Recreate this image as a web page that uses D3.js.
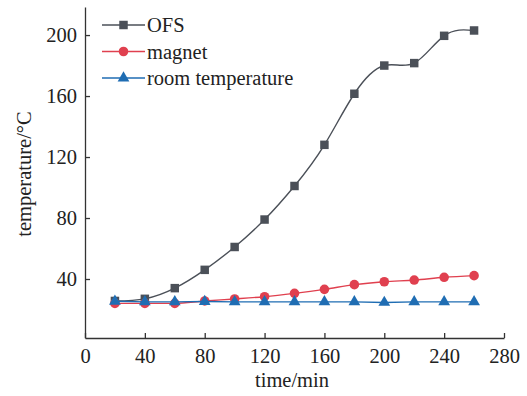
<!DOCTYPE html>
<html>
<head>
<meta charset="utf-8">
<script src="https://cdn.jsdelivr.net/npm/d3@7"></script>
<style>
  body { margin: 0; background: #fff; }
  .axis path, .axis line { stroke: #333; stroke-width: 1.3; }
</style>
</head>
<body>
<div id="chart"></div>
<script>
const times = [20, 40, 60, 80, 100, 120, 140, 160, 180, 200, 220, 240, 260];
const ofs = [25.6, 27, 34, 46, 61, 79, 101, 128, 161.5, 180, 181.6, 199.5, 203];
const magnet = [24, 24, 24, 25.6, 26.9, 28.4, 30.6, 33.2, 36.3, 38.2, 39.3, 41.1, 42.2];
const room = [25.4, 25, 25, 25.2, 25, 25, 25, 25, 25, 24.6, 25, 25, 25];
const xTicks = [0, 40, 80, 120, 160, 200, 240, 280];
const yTicks = [40, 80, 120, 160, 200];

const series = [
  { name: 'OFS', values: ofs, color: '#4b5058', shape: d3.symbolSquare, size: 72, curve: d3.curveNatural },
  { name: 'magnet', values: magnet, color: '#e0404f', shape: d3.symbolCircle, size: 72, curve: d3.curveMonotoneX },
  { name: 'room temperature', values: room, color: '#1f6db3', shape: d3.symbolTriangle, size: 60, curve: d3.curveLinear }
];

const W = 527, H = 396;
const margin = { top: 7, right: 23, bottom: 58, left: 85 };
const width = W - margin.left - margin.right;
const height = H - margin.top - margin.bottom;
const font = "'Liberation Serif', 'Times New Roman', serif";
const fs = '20.5px';

const svg = d3.select('#chart').append('svg')
  .attr('width', W)
  .attr('height', H);

const g = svg.append('g')
  .attr('transform', `translate(${margin.left},${margin.top})`);

const x = d3.scaleLinear().domain([0, 280]).range([0, width]);
const y = d3.scaleLinear().domain([1.3, 218.4]).range([height, 0]);

const styleText = sel => sel
  .style('font-family', font)
  .style('font-size', fs)
  .style('fill', '#222');

// axes, ticks pointing inward
g.append('g')
  .attr('class', 'axis axis-x')
  .attr('transform', `translate(0,${height})`)
  .call(d3.axisBottom(x).tickValues(xTicks).tickSize(-5).tickPadding(9).tickSizeOuter(0))
  .call(s => s.selectAll('text').attr('dy', '0.8em').call(styleText));

g.append('g')
  .attr('class', 'axis axis-y')
  .call(d3.axisLeft(y).tickValues(yTicks).tickSize(-5).tickPadding(8).tickSizeOuter(0))
  .call(s => s.selectAll('text').call(styleText));

// lines and markers
series.forEach(s => {
  const pts = times.map((t, i) => ({ t, v: s.values[i] }));
  g.append('path')
    .datum(pts)
    .attr('fill', 'none')
    .attr('stroke', s.color)
    .attr('stroke-width', 1.4)
    .attr('d', d3.line().x(d => x(d.t)).y(d => y(d.v)).curve(s.curve));
  g.selectAll(null)
    .data(pts)
    .enter().append('path')
    .attr('transform', d => `translate(${x(d.t)},${y(d.v)})`)
    .attr('d', d3.symbol().type(s.shape).size(s.size))
    .attr('fill', s.color);
});

// legend
const legend = svg.append('g').attr('transform', 'translate(102,25)');
series.forEach((s, i) => {
  const row = legend.append('g').attr('transform', `translate(0,${i * 26.5})`);
  row.append('line').attr('x1', 0).attr('x2', 43).attr('stroke', s.color).attr('stroke-width', 1.4);
  row.append('path').attr('transform', 'translate(21.5,0)')
    .attr('d', d3.symbol().type(s.shape).size(s.size)).attr('fill', s.color);
  row.append('text').attr('x', 45).attr('dy', '0.35em').call(styleText).text(s.name);
});

// axis titles
svg.append('text')
  .attr('x', 292)
  .attr('y', 387)
  .attr('text-anchor', 'middle')
  .call(styleText)
  .text('time/min');

svg.append('text')
  .attr('transform', 'translate(31,174) rotate(-90)')
  .attr('text-anchor', 'middle')
  .call(styleText)
  .text('temperature/°C');
</script>
</body>
</html>
